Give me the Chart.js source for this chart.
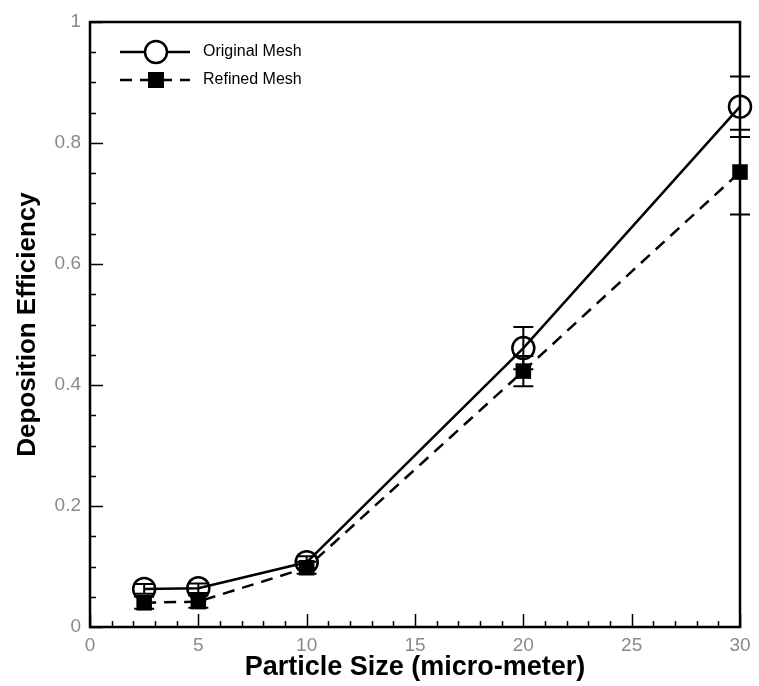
<!DOCTYPE html>
<html lang="en">
<head>
    <meta charset="UTF-8">
    <title>Deposition Efficiency</title>
    <script src="https://cdn.jsdelivr.net/npm/chart.js"></script>
    <style>
        body { margin: 0; background: #fff; }
        #wrap { width: 759px; height: 686px; }
    </style>
</head>
<body>
    <div id="wrap"><canvas id="chart"></canvas></div>
    <script>
        // values
        const sizes = [2.5, 5, 10, 20, 30];
        const originalMesh = [0.063, 0.064, 0.107, 0.461, 0.860];
        const refinedMesh = [0.040, 0.042, 0.098, 0.423, 0.752];
        const originalErr = [0.008, 0.008, 0.010, 0.035, 0.050];
        const refinedErr = [0.010, 0.010, 0.010, 0.025, 0.070];
        const seriesNames = ['Original Mesh', 'Refined Mesh'];

        const toPoints = (ys) => sizes.map((x, i) => ({ x: x, y: ys[i] }));

        // frame, inward ticks, error bars and legend
        const decorations = {
            id: 'decorations',
            beforeDatasetsDraw(chart) {
                const ctx = chart.ctx;
                const a = chart.chartArea;
                const xs = chart.scales.x, ys = chart.scales.y;
                ctx.save();
                ctx.strokeStyle = '#000';
                ctx.lineWidth = 1.5;
                // bottom ticks
                for (let v = 0; v <= 30; v += 1) {
                    const px = Math.round(xs.getPixelForValue(v)) + 0.5;
                    const len = v % 5 === 0 ? 13 : 6;
                    ctx.beginPath();
                    ctx.moveTo(px, a.bottom);
                    ctx.lineTo(px, a.bottom - len);
                    ctx.stroke();
                }
                // left ticks
                for (let k = 0; k <= 20; k++) {
                    const py = Math.round(ys.getPixelForValue(k * 0.05)) + 0.5;
                    const len = k % 4 === 0 ? 13 : 6;
                    ctx.beginPath();
                    ctx.moveTo(a.left, py);
                    ctx.lineTo(a.left + len, py);
                    ctx.stroke();
                }
                ctx.lineWidth = 2.5;
                ctx.strokeRect(a.left, a.top, a.right - a.left, a.bottom - a.top);
                ctx.restore();
            },
            afterDatasetsDraw(chart) {
                const ctx = chart.ctx;
                const xs = chart.scales.x, ys = chart.scales.y;
                ctx.save();
                ctx.strokeStyle = '#000';
                ctx.lineWidth = 2;
                [[originalMesh, originalErr], [refinedMesh, refinedErr]].forEach(([vals, errs]) => {
                    sizes.forEach((x, i) => {
                        const px = xs.getPixelForValue(x);
                        const top = ys.getPixelForValue(vals[i] + errs[i]);
                        const bot = ys.getPixelForValue(vals[i] - errs[i]);
                        ctx.beginPath();
                        ctx.moveTo(px, top); ctx.lineTo(px, bot);
                        ctx.moveTo(px - 10, top); ctx.lineTo(px + 10, top);
                        ctx.moveTo(px - 10, bot); ctx.lineTo(px + 10, bot);
                        ctx.stroke();
                    });
                });

                // legend
                const lx = 120, rx = 190, cx = 156;
                ctx.lineWidth = 2.5;
                ctx.beginPath();
                ctx.moveTo(lx, 52); ctx.lineTo(rx, 52);
                ctx.stroke();
                ctx.beginPath();
                ctx.arc(cx, 52, 11, 0, Math.PI * 2);
                ctx.fillStyle = '#fff';
                ctx.fill();
                ctx.stroke();
                ctx.setLineDash([12, 8]);
                ctx.beginPath();
                ctx.moveTo(lx, 80); ctx.lineTo(rx, 80);
                ctx.stroke();
                ctx.setLineDash([]);
                ctx.fillStyle = '#000';
                ctx.fillRect(cx - 8, 72, 16, 16);
                ctx.font = '16px "Liberation Sans", Arial, sans-serif';
                ctx.textBaseline = 'middle';
                ctx.fillText(seriesNames[0], 203, 52);
                ctx.fillText(seriesNames[1], 203, 80);
                ctx.restore();
            }
        };

        const tickFont = { family: '"Liberation Sans", Arial, sans-serif', size: 19 };
        const fam = '"Liberation Sans", Arial, sans-serif';

        new Chart(document.getElementById('chart'), {
            type: 'scatter',
            data: {
                datasets: [{
                    label: seriesNames[0],
                    data: toPoints(originalMesh),
                    showLine: true,
                    borderColor: '#000',
                    borderWidth: 2.5,
                    pointStyle: 'circle',
                    pointRadius: 11,
                    pointBorderWidth: 2.5,
                    pointBackgroundColor: 'rgba(0,0,0,0)',
                    pointBorderColor: '#000',
                    clip: false
                }, {
                    label: seriesNames[1],
                    data: toPoints(refinedMesh),
                    showLine: true,
                    borderColor: '#000',
                    borderWidth: 2.5,
                    borderDash: [12, 8],
                    pointStyle: 'rect',
                    pointRadius: 11,
                    pointBorderWidth: 0,
                    pointBackgroundColor: '#000',
                    clip: false
                }]
            },
            options: {
                responsive: true,
                maintainAspectRatio: false,
                animation: false,
                layout: { padding: { top: 22, right: 19, left: 0, bottom: 0 } },
                plugins: { legend: { display: false }, tooltip: { enabled: false } },
                scales: {
                    x: {
                        type: 'linear',
                        min: 0, max: 30,
                        ticks: { stepSize: 5, color: '#8a8a8a', font: tickFont, padding: 7, maxRotation: 0 },
                        grid: { display: false, drawTicks: false },
                        border: { display: false },
                        title: { display: true, text: 'Particle Size (micro-meter)', color: '#000', font: { family: fam, size: 27, weight: 'bold' }, padding: { top: 0, bottom: 2 } },
                        afterFit(scale) { scale.height = 59; }
                    },
                    y: {
                        min: 0, max: 1,
                        ticks: {
                            stepSize: 0.2, color: '#8a8a8a', font: tickFont, padding: 9,
                            callback: (v) => Number(v.toFixed(1)).toString()
                        },
                        grid: { display: false, drawTicks: false },
                        border: { display: false },
                        title: { display: true, text: 'Deposition Efficiency', color: '#000', font: { family: fam, size: 26, weight: 'bold' }, padding: { top: 12, bottom: 0 } },
                        afterFit(scale) { scale.width = 90; }
                    }
                }
            },
            plugins: [decorations]
        });
    </script>
</body>
</html>
